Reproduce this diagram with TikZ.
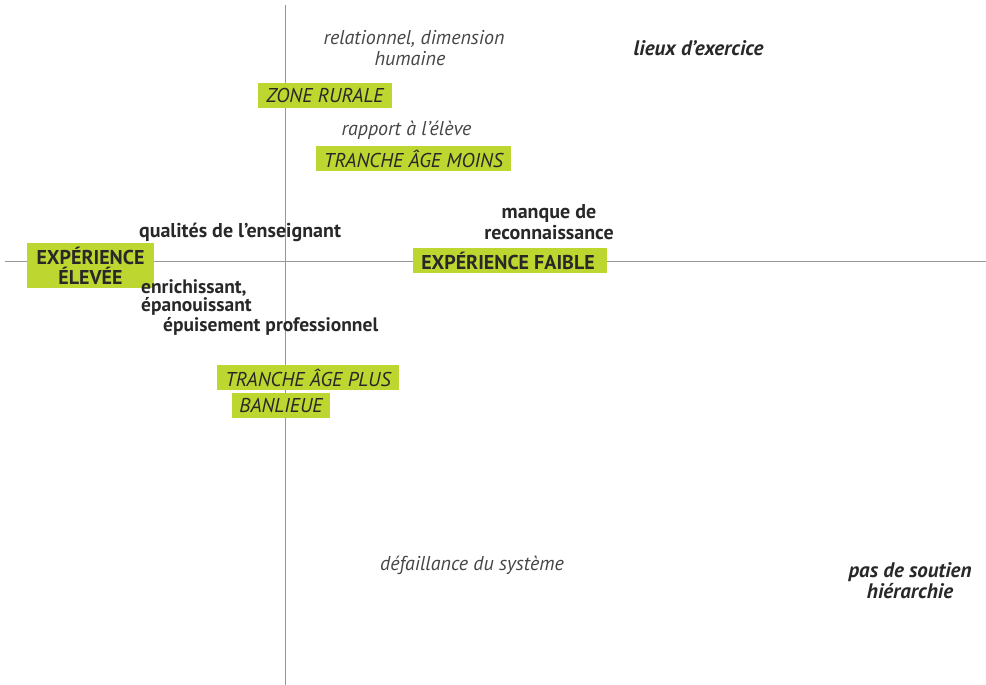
\documentclass[tikz,border=0pt]{standalone}
\usepackage{fontspec}
\setmainfont{PT Sans}
\definecolor{lime}{RGB}{190,214,48}
\definecolor{axisgray}{RGB}{150,150,150}
\definecolor{txtdark}{RGB}{40,40,40}
\definecolor{txtit}{RGB}{70,70,70}
\begin{document}
\begin{tikzpicture}[x=1pt,y=-1pt,
  lbl/.style={inner sep=0pt,text=txtdark},
  bld/.style={lbl,font=\fontsize{20}{21}\selectfont\bfseries},
  ita/.style={lbl,font=\fontsize{20}{21}\selectfont\itshape,text=txtit},
  bit/.style={lbl,font=\fontsize{21}{21}\selectfont\bfseries\itshape},
  gbox/.style={fill=lime,inner sep=0pt,align=center,text=txtdark}]
\useasboundingbox (0,0) rectangle (986,685);
\coordinate (vt) at (285,5);
\coordinate (vb) at (285,685);
\coordinate (hl) at (5,261);
\coordinate (hr) at (986,261);
\draw[axisgray,line width=1pt] (vt) -- (vb);
\draw[axisgray,line width=1pt] (hl) -- (hr);
% green boxes
\node[gbox,minimum width=127pt,minimum height=45pt,font=\fontsize{20}{20}\selectfont\bfseries] (ee) at (90.5,265.5) {EXPÉRIENCE\\ÉLEVÉE};
\node[gbox,minimum width=134pt,minimum height=25pt,font=\fontsize{20}{20}\selectfont\itshape] (zr) at (325,95.5) {ZONE RURALE};
\node[gbox,minimum width=195pt,minimum height=25pt,font=\fontsize{20}{20}\selectfont\itshape] (tm) at (413.5,158.5) {TRANCHE ÂGE MOINS};
\node[gbox,minimum width=194pt,minimum height=25pt,font=\fontsize{20}{20}\selectfont\bfseries] (ef) at (510,260.5) {\hspace*{-4pt}EXPÉRIENCE FAIBLE};
\node[gbox,minimum width=182pt,minimum height=25pt,font=\fontsize{20}{20}\selectfont\itshape] (tp) at (308,377.5) {TRANCHE ÂGE PLUS};
\node[gbox,minimum width=98pt,minimum height=25pt,font=\fontsize{20}{20}\selectfont\itshape] (bl) at (281,405.5) {BANLIEUE};
% labels
\node[ita,align=center] (rel) at (414,48) {relationnel, dimension\\\hspace*{-8pt}humaine};
\node[bit] (lieux) at (698.5,48) {lieux d'exercice};
\node[ita] (rap) at (406.5,130) {rapport à l'élève};
\node[bld] (qual) at (240,232) {qualités de l'enseignant};
\node[bld,align=center] (manq) at (549,222) {manque de\\reconnaissance};
\node[bld,align=left,anchor=west,font=\fontsize{19.5}{18.5}\selectfont\bfseries] (enr) at (141,297.5) {enrichissant,\\épanouissant};
\node[bld,anchor=west,font=\fontsize{19.5}{19}\selectfont\bfseries] (epu) at (163,326) {épuisement professionnel};
\node[ita] (def) at (472,565) {défaillance du système};
\node[bit,align=center] (pas) at (910,580.5) {pas de soutien\\hiérarchie};
\end{tikzpicture}
\end{document}
